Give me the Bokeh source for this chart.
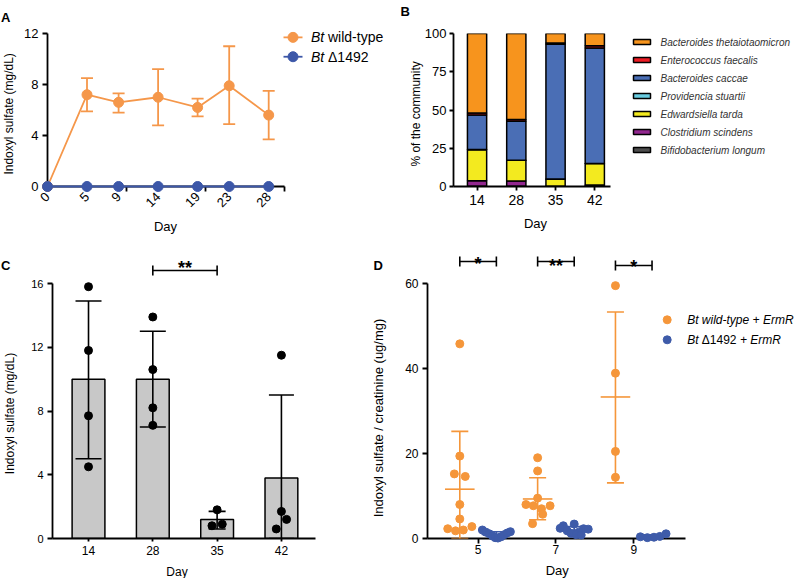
import math
from bokeh.plotting import figure
from bokeh.models import Range1d, FixedTicker, ColumnDataSource, Whisker, TeeHead
from bokeh.layouts import row, column
from bokeh.core.properties import value
from bokeh.embed import file_html
from bokeh.resources import INLINE

FONT = "Liberation Sans"

# ---------------- data: panel A ----------------
a_days = [0, 5, 9, 14, 19, 23, 28]
a_wt_mean = [0.0, 7.2, 6.6, 7.0, 6.2, 7.9, 5.6]
a_wt_upper = [0.0, 8.5, 7.3, 9.2, 6.9, 11.0, 7.5]
a_wt_lower = [0.0, 5.9, 5.8, 4.8, 5.5, 4.9, 3.7]
a_ko_mean = [0.0, 0.0, 0.0, 0.0, 0.0, 0.0, 0.0]
a_yticks = [0, 4, 8, 12]
a_xminor = [0, 10, 20, 30]

# ---------------- data: panel B ----------------
b_days = ["14", "28", "35", "42"]
b_bifidobacterium = [0.1, 0.1, 0.1, 0.5]
b_clostridium = [3.7, 3.5, 0.1, 0.4]
b_edwardsiella = [20.3, 13.5, 4.6, 14.1]
b_providencia = [0.1, 0.1, 0.1, 0.1]
b_caccae = [22.5, 25.5, 88.0, 75.4]
b_enterococcus = [1.4, 1.1, 0.9, 1.5]
b_theta = [51.9, 56.2, 6.2, 8.0]
b_names = ["Bifidobacterium longum", "Clostridium scindens", "Edwardsiella tarda",
           "Providencia stuartii", "Bacteroides caccae", "Enterococcus faecalis",
           "Bacteroides thetaiotaomicron"]
b_colors = ["#4D4D4D", "#92278F", "#F3EA1F", "#69CCE0", "#4A6EB5", "#ED1C24", "#F7941D"]
b_yticks = [0, 25, 50, 75, 100]

# ---------------- data: panel C ----------------
c_days = ["14", "28", "35", "42"]
c_mean = [10.0, 10.0, 1.2, 3.8]
c_upper = [14.9, 13.0, 1.7, 9.0]
c_lower = [5.0, 7.0, 0.6, 0.0]
c_points = [[15.8, 11.8, 7.7, 4.5], [13.9, 10.6, 8.2, 7.1], [1.8, 0.8, 0.9], [11.5, 1.7, 1.2, 0.6]]
c_yticks = [0, 4, 8, 12, 16]

# ---------------- data: panel D ----------------
d_days = [5, 7, 9]
d_wt_points = [[45.8, 19.4, 15.2, 14.6, 8.0, 4.6, 2.3, 1.8, 2.0, 2.8],
               [19.0, 15.9, 9.5, 8.0, 7.7, 7.0, 7.7, 5.7, 3.5],
               [59.5, 38.9, 20.5, 14.4]]
d_wt_mean = [11.6, 9.3, 33.3]
d_wt_upper = [25.2, 14.3, 53.3]
d_wt_lower = [0.0, 4.4, 13.1]
d_ko_points = [[2.0, 1.5, 1.1, 0.6, 0.2, 0.1, 0.4, 0.9, 1.3, 1.6],
               [3.0, 3.4, 2.3, 2.4, 1.8, 1.5, 1.2, 0.9, 0.8, 2.2],
               [0.4, 0.2, 0.3, 0.5, 1.1]]
d_ko_mean = [0.97, 1.95, 0.5]
d_ko_upper = [1.6, 2.8, 0.85]
d_ko_lower = [0.3, 1.1, 0.15]
d_yticks = [0, 20, 40, 60]
d_sig = ["*", "**", "*"]

# ---------------- layout / style parameters ----------------
C_JITTER = [[0, 0, 0, 0], [0, 0, 0, 0], [0, -0.08, 0.08], [0, 0, 0.08, -0.08]]
D_WT_JITTER = [[0, 0, -0.14, 0.14, 0, 0, -0.31, -0.11, 0.09, 0.31],
               [0, 0, 0, -0.3, -0.11, 0.1, 0.32, 0.13, -0.13],
               [0, 0, 0, 0]]
D_KO_JITTER = [[-0.36, -0.27, -0.18, -0.1, -0.03, 0.04, 0.12, 0.2, 0.28, 0.36],
               [-0.28, 0.0, 0.24, -0.36, -0.18, 0.12, -0.08, 0.05, 0.18, 0.36],
               [-0.3, -0.12, 0.05, 0.2, 0.36]]
D_OFF = 0.47
ORANGE_A = "#F5974A"
BLUE_A = "#3C57A8"
ORANGE_D = "#F5963A"
BLUE_D = "#3E5BA9"
AXLW = 1.8


class Geo:
    def __init__(self, fx, fy, fw, fh, L, R, T, B, xr, yr):
        self.fx, self.fy, self.fw, self.fh = fx, fy, fw, fh
        self.L, self.R, self.T, self.B = L, R, T, B
        self.xr, self.yr = xr, yr

    def x(self, px):
        return self.xr[0] + (px - self.L) / (self.R - self.L) * (self.xr[1] - self.xr[0])

    def y(self, py):
        return self.yr[0] + (self.B - py) / (self.B - self.T) * (self.yr[1] - self.yr[0])

    def dy(self, d):
        return d / (self.B - self.T) * (self.yr[1] - self.yr[0])

    def make(self):
        p = figure(width=self.fw, height=self.fh,
                   x_range=Range1d(*self.xr), y_range=Range1d(*self.yr),
                   output_backend="svg", toolbar_location=None,
                   min_border_left=self.L - self.fx, min_border_right=self.fx + self.fw - self.R,
                   min_border_top=self.T - self.fy, min_border_bottom=self.fy + self.fh - self.B)
        p.outline_line_color = None
        p.xgrid.visible = False
        p.ygrid.visible = False
        p.background_fill_color = "white"
        p.border_fill_color = "white"
        return p


def style_axis(ax, size, tick_out=5, standoff=4):
    ax.axis_line_color = "black"
    ax.axis_line_width = AXLW
    ax.major_tick_line_color = "black"
    ax.major_tick_line_width = AXLW
    ax.major_tick_in = 0
    ax.major_tick_out = tick_out
    ax.minor_tick_line_color = None
    ax.major_label_text_font = FONT
    ax.major_label_text_font_size = size
    ax.major_label_text_color = "black"
    ax.major_label_standoff = standoff


def label(p, g, px, py, text, size, style="normal", align="left", baseline="middle",
          angle=0.0, color="black"):
    p.text(x=[g.x(px)], y=[g.y(py)], text=[text], text_font=value(FONT),
           text_font_size=value(size), text_font_style=style, text_align=align,
           text_baseline=baseline, angle=angle, text_color=color, level="overlay")


def whisker(p, xs, up, lo, color, cap, lw):
    src = ColumnDataSource(dict(x=xs, u=up, l=lo))
    p.add_layout(Whisker(base="x", upper="u", lower="l", source=src, dimension="height",
                         line_color=color, line_width=lw, level="annotation",
                         upper_head=TeeHead(size=cap, line_color=color, line_width=lw),
                         lower_head=TeeHead(size=cap, line_color=color, line_width=lw)))


def bracket(p, g, x1, x2, ypx, star, star_ypx):
    y = g.y(ypx)
    h = g.dy(5)
    p.segment(x0=[x1, x1, x2], y0=[y, y - h, y - h], x1=[x2, x1, x2], y1=[y, y + h, y + h],
              line_color="black", line_width=1.6, level="overlay")
    p.text(x=[(x1 + x2) / 2], y=[g.y(star_ypx + 10)], text=[star], text_font=value(FONT),
           text_font_size=value("18px"), text_font_style="bold", text_align="center",
           text_baseline="alphabetic", text_color="black", level="overlay")


# ================= Panel A =================
GA = Geo(0, 0, 400, 240, 47, 284, 28, 186, (0, 30), (0, 12))
pa = GA.make()
xa = pa.xaxis[0]
style_axis(xa, "13px", tick_out=0, standoff=3)
xa.ticker = FixedTicker(ticks=a_days, minor_ticks=a_xminor)
xa.minor_tick_line_color = "black"
xa.minor_tick_line_width = AXLW
xa.minor_tick_in = 0
xa.minor_tick_out = 5
xa.major_label_orientation = math.pi / 4
ya = pa.yaxis[0]
style_axis(ya, "13px", tick_out=5, standoff=4)
ya.ticker = FixedTicker(ticks=a_yticks)

wt_idx = [i for i in range(len(a_days)) if a_wt_upper[i] > a_wt_lower[i]]
whisker(pa, [a_days[i] for i in wt_idx], [a_wt_upper[i] for i in wt_idx],
        [a_wt_lower[i] for i in wt_idx], ORANGE_A, 12, 1.8)
pa.line(a_days, a_wt_mean, line_color=ORANGE_A, line_width=1.8, level="overlay")
pa.scatter(a_days, a_wt_mean, size=10, marker="circle", fill_color=ORANGE_A,
           line_color=ORANGE_A, level="overlay")
pa.line(a_days, a_ko_mean, line_color=BLUE_A, line_width=1.8, level="overlay")
pa.scatter(a_days, a_ko_mean, size=10, marker="circle", fill_color=BLUE_A,
           line_color=BLUE_A, level="overlay")

# legend A
for ypx, col, name in [(32, ORANGE_A, "wild-type"), (52, BLUE_A, "\u0394" + "1492")]:
    pa.segment(x0=[GA.x(283)], y0=[GA.y(ypx)], x1=[GA.x(302)], y1=[GA.y(ypx)],
               line_color=col, line_width=1.8, level="overlay")
    pa.scatter([GA.x(292.5)], [GA.y(ypx)], size=10, marker="circle", fill_color=col,
               line_color=col, level="overlay")
    label(pa, GA, 310.5, ypx, "Bt", "14px", style="italic")
    label(pa, GA, 327.5, ypx, name, "14px")

label(pa, GA, 8, 111, "Indoxyl sulfate (mg/dL)", "12px", align="center", angle=math.pi / 2)
label(pa, GA, 165, 227, "Day", "13px", align="center")
label(pa, GA, 0.5, 11, "A", "13px", style="bold", baseline="alphabetic")

# ================= Panel B =================
GB = Geo(400, 0, 400, 240, 453, 610, 33, 189, (0.4, 4.4), (0, 100))
pb = GB.make()
b_x = [i + 1 for i in range(len(b_days))]
keys = ["bifido", "clostr", "edward", "provid", "caccae", "entero", "theta"]
src_b = ColumnDataSource(dict(x=b_x, bifido=b_bifidobacterium, clostr=b_clostridium,
                              edward=b_edwardsiella, provid=b_providencia, caccae=b_caccae,
                              entero=b_enterococcus, theta=b_theta))
pb.vbar_stack(keys, x="x", width=0.49, fill_color=b_colors, line_color="black",
              line_width=1.5, source=src_b)
xb = pb.xaxis[0]
style_axis(xb, "14px", tick_out=4, standoff=4)
xb.ticker = FixedTicker(ticks=b_x)
xb.major_label_overrides = {x: d for x, d in zip(b_x, b_days)}
yb = pb.yaxis[0]
style_axis(yb, "13px", tick_out=4, standoff=3)
yb.ticker = FixedTicker(ticks=b_yticks)

for i, (name, col) in enumerate(zip(reversed(b_names), reversed(b_colors))):
    ypx = 41.7 + 18.35 * i
    pb.rect([GB.x(641.5)], [GB.y(ypx)], width=17, height=5, width_units="screen",
            height_units="screen", fill_color=col, line_color="black", line_width=1.5,
            level="overlay")
    label(pb, GB, 660, ypx, name, "10px", style="italic", color="#333333")

label(pb, GB, 415, 115, "% of the community", "12px", align="center", angle=math.pi / 2)
label(pb, GB, 535, 227, "Day", "13px", align="center")
label(pb, GB, 400, 11, "B", "13px", style="bold", baseline="alphabetic")

# ================= Panel C =================
GC = Geo(0, 240, 370, 338, 52, 315, 283, 538, (0.44, 4.53), (0, 16))
pc = GC.make()
c_x = [i + 1 for i in range(len(c_days))]
pc.vbar(x=c_x, top=c_mean, width=0.51, fill_color="#C8C8C8", line_color="black",
        line_width=1.5)
C_CAPS = [26, 26, 17, 25]
for xi, u, l, cap in zip(c_x, c_upper, c_lower, C_CAPS):
    whisker(pc, [xi], [u], [l], "black", cap, 1.6)
cpx, cpy = [], []
for xi, pts, jit in zip(c_x, c_points, C_JITTER):
    for v, j in zip(pts, jit):
        cpx.append(xi + j)
        cpy.append(v)
pc.scatter(cpx, cpy, size=8, marker="circle", fill_color="black", line_color="black",
           level="overlay")
xc = pc.xaxis[0]
style_axis(xc, "12px", tick_out=3, standoff=4)
xc.ticker = FixedTicker(ticks=c_x)
xc.major_label_overrides = {x: d for x, d in zip(c_x, c_days)}
yc = pc.yaxis[0]
style_axis(yc, "11px", tick_out=5, standoff=4)
yc.ticker = FixedTicker(ticks=c_yticks)
bracket(pc, GC, c_x[1], c_x[2], 270, "**", 257.5)
label(pc, GC, 9, 413, "Indoxyl sulfate (mg/dL)", "12px", align="center", angle=math.pi / 2)
label(pc, GC, 176.5, 571.5, "Day", "12px", align="center")
label(pc, GC, 0.5, 265, "C", "13px", style="bold", baseline="alphabetic")

# ================= Panel D =================
GD = Geo(370, 240, 430, 338, 427, 685, 283, 538, (3.7, 10.33), (0, 60))
pd_ = GD.make()
for pts_all, jit_all, off, mean, up, lo, col in [
        (d_wt_points, D_WT_JITTER, -D_OFF, d_wt_mean, d_wt_upper, d_wt_lower, ORANGE_D),
        (d_ko_points, D_KO_JITTER, D_OFF, d_ko_mean, d_ko_upper, d_ko_lower, BLUE_D)]:
    gx = [d + off for d in d_days]
    whisker(pd_, gx, up, lo, col, 17, 1.6)
    pd_.segment(x0=[x - 0.38 for x in gx], y0=mean, x1=[x + 0.38 for x in gx], y1=mean,
                line_color=col, line_width=1.6, level="annotation")
    px_, py_ = [], []
    for x0, pts, jit in zip(gx, pts_all, jit_all):
        for v, j in zip(pts, jit):
            px_.append(x0 + j)
            py_.append(v)
    pd_.scatter(px_, py_, size=8, marker="circle", fill_color=col, line_color=col,
                level="overlay")

xd = pd_.xaxis[0]
style_axis(xd, "12px", tick_out=5, standoff=1)
xd.ticker = FixedTicker(ticks=d_days)
yd = pd_.yaxis[0]
style_axis(yd, "12px", tick_out=5, standoff=4)
yd.ticker = FixedTicker(ticks=d_yticks)

for d, s, ypx, sy in zip(d_days, d_sig, [261, 261, 265], [253.5, 255, 256.5]):
    bracket(pd_, GD, d - D_OFF, d + D_OFF, ypx, s, sy)

# legend D
pd_.scatter([GD.x(666.7)], [GD.y(319.3)], size=8, marker="circle", fill_color=ORANGE_D,
            line_color=ORANGE_D, level="overlay")
pd_.scatter([GD.x(666.7)], [GD.y(339.3)], size=8, marker="circle", fill_color=BLUE_D,
            line_color=BLUE_D, level="overlay")
label(pd_, GD, 686.7, 319.3, "Bt wild-type + ErmR", "12px", style="italic")
label(pd_, GD, 686.7, 339.3, "Bt", "12px", style="italic")
label(pd_, GD, 701.3, 339.3, "\u0394" + "1492", "12px")
label(pd_, GD, 739.5, 339.3, "+ ErmR", "12px", style="italic")

label(pd_, GD, 378, 417.5, "Indoxyl sulfate / creatinine (ug/mg)", "13px", align="center",
      angle=math.pi / 2)
label(pd_, GD, 556.7, 570, "Day", "13px", align="center")
label(pd_, GD, 373, 265, "D", "13px", style="bold", baseline="alphabetic")

root = column(row(pa, pb), row(pc, pd_))
root.styles = {"position": "absolute", "left": "0px", "top": "0px"}

open("out.html", "w").write(file_html(root, INLINE))
